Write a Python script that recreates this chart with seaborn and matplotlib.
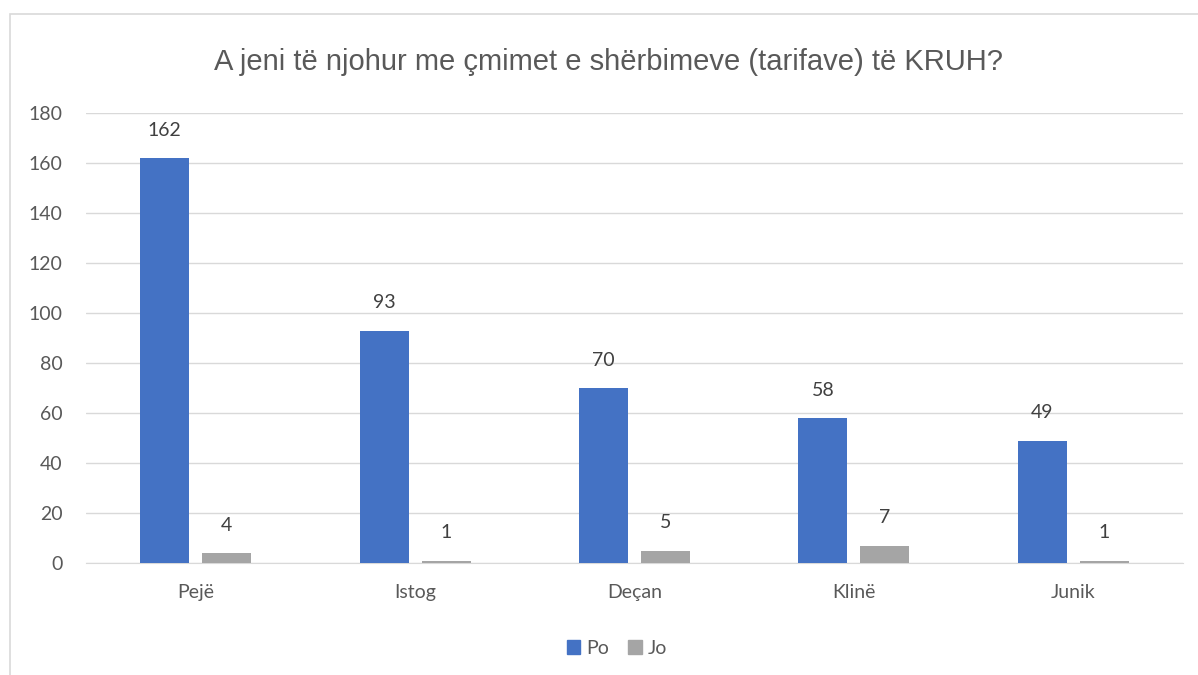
import pandas as pd
import matplotlib.pyplot as plt
import matplotlib.patches as mpatches
import seaborn as sns

# Te dhenat e pyetjes
komunat = ['Pejë', 'Istog', 'Deçan', 'Klinë', 'Junik']
po = [162, 93, 70, 58, 49]
jo = [4, 1, 5, 7, 1]
ngjyrat = {'Po': '#4472C4', 'Jo': '#A5A5A5'}

df = pd.DataFrame({'Komuna': komunat * 2,
                   'Pergjigja': ['Po'] * len(komunat) + ['Jo'] * len(komunat),
                   'Numri': po + jo})

sns.set_style('white')
plt.rcParams['font.family'] = ['Lato', 'DejaVu Sans']

fig = plt.figure(figsize=(11.98, 6.75), dpi=100)
ax = fig.add_axes([0.0718, 0.1659, 0.9157, 0.6667])

sns.barplot(data=df, x='Komuna', y='Numri', hue='Pergjigja', palette=ngjyrat,
            width=0.566, gap=0.21, saturation=1, linewidth=0, ax=ax, legend=False, zorder=3)

ax.set_ylim(0, 180)
ax.set_yticks(range(0, 181, 20))
ax.yaxis.grid(True, color='#D9D9D9', lw=1, zorder=0)
ax.set_axisbelow(True)
sns.despine(ax=ax, left=True, top=True, right=True)
ax.spines['bottom'].set_color('#D9D9D9')
ax.tick_params(axis='both', length=0, labelsize=14, colors='#595959')
ax.tick_params(axis='x', pad=15)
ax.tick_params(axis='y', pad=17)
ax.set_xlabel('')
ax.set_ylabel('')

# etiketat mbi shtylla
for bars in ax.containers:
    for b in bars:
        ax.annotate(f'{int(b.get_height())}', (b.get_x() + b.get_width() / 2, b.get_height()),
                    xytext=(0, 20), textcoords='offset points', ha='center', va='center',
                    fontsize=14, color='#404040')

fig.text(0.508, 0.908, 'A jeni të njohur me çmimet e shërbimeve (tarifave) të KRUH?',
         ha='center', va='center', fontsize=21, color='#595959',
         family=['Liberation Sans', 'DejaVu Sans'])

handles = [mpatches.Patch(color=ngjyrat[k], label=k) for k in ['Po', 'Jo']]
fig.legend(handles=handles, loc='center', bbox_to_anchor=(0.515, 0.04), ncol=2, frameon=False,
           fontsize=14, handlelength=0.7, handleheight=0.7, handletextpad=0.3,
           columnspacing=1.0, labelcolor='#595959')

# kuadri i grafikut
fig.patches.append(mpatches.Rectangle((0.0083, -0.1), 1.2, 1.1 - 0.0207, transform=fig.transFigure,
                                      fill=False, edgecolor='#D9D9D9', lw=1.2))

fig.savefig('out.png', dpi=100)
